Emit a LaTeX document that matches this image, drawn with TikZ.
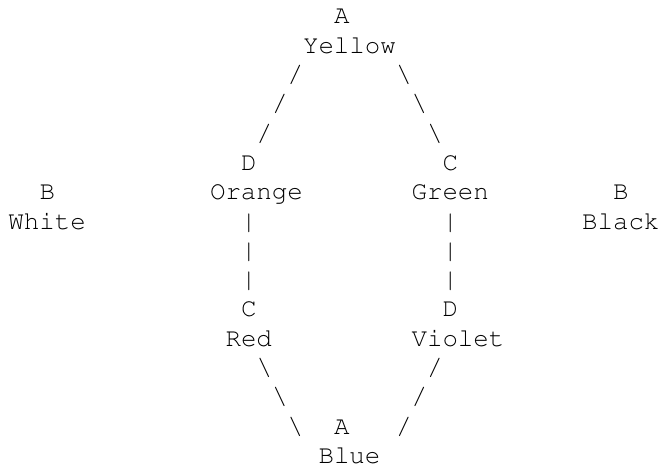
\documentclass[tikz,border=0pt]{standalone}
\usepackage[T1]{fontenc}
\newcommand\asciimono{\fontencoding{T1}\fontfamily{pcr}\fontseries{m}\fontshape{n}}
\tikzset{
  lbl/.style={font=\asciimono\fontsize{25.83}{29.29}\selectfont, anchor=base west, inner sep=0pt, outer sep=0pt, text=black},
}
\begin{document}
\begin{tikzpicture}[x=15.5pt, y=-29.29pt]
\useasboundingbox (-8.5pt,24pt) rectangle (655.5pt,-446pt);
% row 0-1
\node[lbl] (aTop) at (21,0) {A};
\node[lbl] (yellow) at (19,1) {Yellow};
% rows 2-4: diagonals from Yellow
\node[lbl] (ly1) at (18,2) {/};
\node[lbl] (ly2) at (17,3) {/};
\node[lbl] (ly3) at (16,4) {/};
\node[lbl] (ry1) at (25,2) {\textbackslash};
\node[lbl] (ry2) at (26,3) {\textbackslash};
\node[lbl] (ry3) at (27,4) {\textbackslash};
% row 5-6
\node[lbl] (dOr) at (15,5) {D};
\node[lbl] (cGr) at (28,5) {C};
\node[lbl] (bWh) at (2,6) {B};
\node[lbl] (orange) at (13,6) {Orange};
\node[lbl] (green) at (26,6) {Green};
\node[lbl] (bBl) at (39,6) {B};
% row 7
\node[lbl] (white) at (0,7) {White};
\node[lbl] (black) at (37,7) {Black};
% rows 7-9: verticals
\node[lbl] (lv1) at (15,7) {\textbar};
\node[lbl] (lv2) at (15,8) {\textbar};
\node[lbl] (lv3) at (15,9) {\textbar};
\node[lbl] (rv1) at (28,7) {\textbar};
\node[lbl] (rv2) at (28,8) {\textbar};
\node[lbl] (rv3) at (28,9) {\textbar};
% rows 10-11
\node[lbl] (cRe) at (15,10) {C};
\node[lbl] (dVi) at (28,10) {D};
\node[lbl] (red) at (14,11) {Red};
\node[lbl] (violet) at (26,11) {Violet};
% rows 12-14: diagonals to Blue
\node[lbl] (lb1) at (16,12) {\textbackslash};
\node[lbl] (lb2) at (17,13) {\textbackslash};
\node[lbl] (lb3) at (18,14) {\textbackslash};
\node[lbl] (rb1) at (27,12) {/};
\node[lbl] (rb2) at (26,13) {/};
\node[lbl] (rb3) at (25,14) {/};
% rows 14-15
\node[lbl] (aBot) at (21,14) {A};
\node[lbl] (blue) at (20,15) {Blue};
\end{tikzpicture}
\end{document}
